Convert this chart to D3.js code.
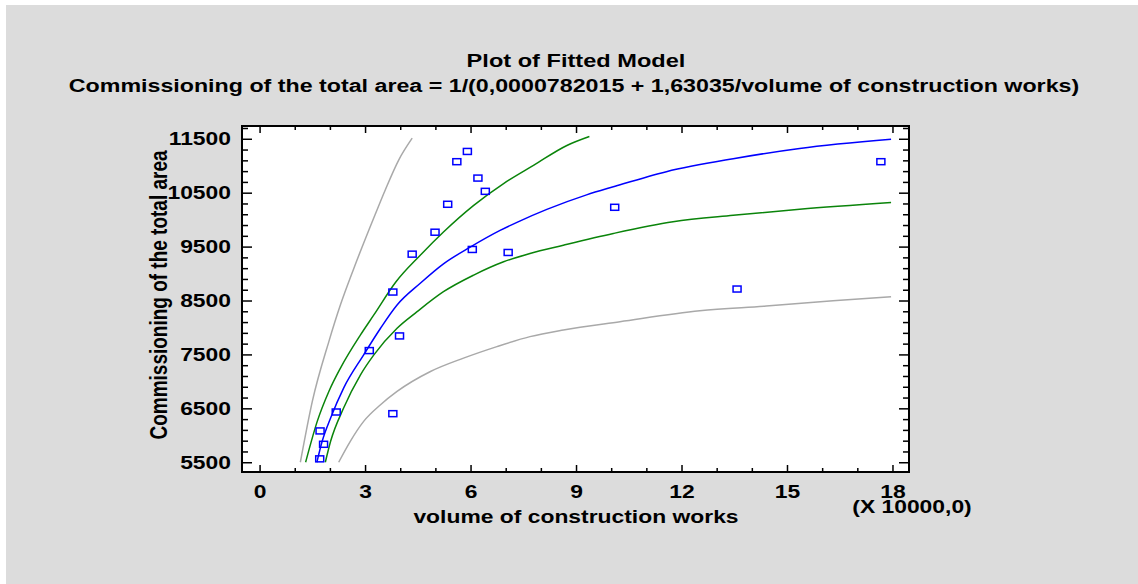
<!DOCTYPE html>
<html>
<head>
<meta charset="utf-8">
<script src="https://cdn.jsdelivr.net/npm/d3@7/dist/d3.min.js"></script>
<style>
  body { margin: 0; background: #fff; }
  text { font-family: "Liberation Sans", Arial, sans-serif; font-weight: bold; fill: #000; }
</style>
</head>
<body>
<div id="chart-area"></div>
<script>
// observations (volume in units of 10000)
const obsVolume = [1.71, 1.82, 1.72, 2.18, 3.79, 3.12, 3.98, 3.79, 4.34, 4.99, 5.35, 6.05, 7.07, 5.61, 5.91, 6.21, 6.42, 10.10, 13.58, 17.67];
const obsArea   = [5563, 5833, 6081, 6432, 6401, 7571, 7843, 8657, 9360, 9767, 10285, 9447, 9391, 11075, 11265, 10771, 10525, 10229, 8713, 11075];

// fitted model line
const fitX = [1.63, 1.78, 2.02, 2.39, 2.96, 3.44, 3.91, 4.57, 5.23, 5.99, 6.84, 7.32, 8.17, 9.30, 10.06, 11.57, 13.47, 15.36, 17.96];
const fitY = [5500, 5888, 6321, 6876, 7492, 7986, 8417, 8820, 9180, 9490, 9800, 9950, 10190, 10460, 10610, 10890, 11130, 11320, 11490];

// confidence limits (green)
const confUpX = [1.31, 1.64, 1.97, 2.30, 2.87, 3.25, 3.88, 4.57, 5.23, 6.09, 6.94, 7.79, 8.74, 9.38];
const confUpY = [5500, 6258, 6813, 7246, 7862, 8232, 8848, 9341, 9772, 10266, 10670, 11006, 11376, 11542];
const confLoX = [1.87, 2.02, 2.39, 2.87, 3.25, 3.91, 4.48, 5.23, 6.09, 6.94, 7.69, 8.64, 10.06, 11.76, 13.47, 15.36, 17.96];
const confLoY = [5500, 5888, 6506, 7122, 7492, 7986, 8293, 8663, 8972, 9218, 9373, 9526, 9743, 9960, 10080, 10192, 10316];

// prediction limits (gray)
const predUpX = [1.16, 1.50, 1.97, 2.30, 2.68, 3.29, 3.58, 3.96, 4.34];
const predUpY = [5500, 6628, 7738, 8420, 9095, 10100, 10560, 11110, 11511];
const predLoX = [2.25, 2.58, 2.96, 3.44, 3.91, 4.86, 5.80, 6.75, 7.69, 8.64, 10.25, 12.52, 14.41, 16.31, 17.96];
const predLoY = [5500, 5888, 6258, 6567, 6813, 7183, 7431, 7645, 7830, 7954, 8108, 8311, 8398, 8496, 8570];

const xTicks = [0, 3, 6, 9, 12, 15, 18];
const yTicks = [5500, 6500, 7500, 8500, 9500, 10500, 11500];

const canvasWidth = 1138;
const canvasHeight = 584;
const margin = {left: 242, top: 126, right: 229, bottom: 112};
const chartWidth = canvasWidth - margin.left - margin.right;
const chartHeight = canvasHeight - margin.top - margin.bottom;
const stretchX = 1.27;

const canvas = d3.select("#chart-area").append("svg")
  .attr("width", canvasWidth).attr("height", canvasHeight);

canvas.append("rect").attr("x", 6).attr("y", 5)
  .attr("width", canvasWidth - 6).attr("height", canvasHeight - 5).attr("fill", "#dcdcdc");

const chartGroup = canvas.append("g").attr("transform", `translate(${margin.left}, ${margin.top})`);
chartGroup.append("rect").attr("width", chartWidth).attr("height", chartHeight).attr("fill", "#fff");

const xScale = d3.scaleLinear().domain([-0.5, 18.47]).range([0, chartWidth]);
const yScale = d3.scaleLinear().domain([5319, 11737]).range([chartHeight, 0]);

// widen horizontal text like the original
function stretch(sel, f = stretchX) {
  sel.each(function() {
    const w = this.getComputedTextLength();
    d3.select(this).attr("textLength", w * f).attr("lengthAdjust", "spacingAndGlyphs");
  });
}

const xMinor = d3.range(0, 19, 1).filter(v => v % 3 !== 0);
const yMinor = d3.range(5300, 11800, 200).filter(v => v > 5319 && v < 11737 && (v - 5500) % 1000 !== 0);

function styleAxis(g) {
  g.select(".domain").remove();
  g.selectAll("line").attr("stroke", "#000").attr("stroke-width", 1.5);
  g.selectAll("text").attr("font-size", "18px").attr("font-family", null);
}

// bottom
chartGroup.append("g").attr("transform", `translate(0, ${chartHeight})`)
  .call(d3.axisBottom(xScale).tickValues(xTicks).tickSize(-7).tickPadding(13))
  .call(styleAxis)
  .call(g => g.selectAll("text").call(stretch));
chartGroup.append("g").attr("transform", `translate(0, ${chartHeight})`)
  .call(d3.axisBottom(xScale).tickValues(xMinor).tickSize(-4).tickFormat(""))
  .call(styleAxis);
// top
chartGroup.append("g")
  .call(d3.axisTop(xScale).tickValues(xTicks).tickSize(-7).tickFormat(""))
  .call(styleAxis);
chartGroup.append("g")
  .call(d3.axisTop(xScale).tickValues(xMinor).tickSize(-4).tickFormat(""))
  .call(styleAxis);
// left
chartGroup.append("g")
  .call(d3.axisLeft(yScale).tickValues(yTicks).tickSize(-10).tickPadding(11).tickFormat(d3.format("d")))
  .call(styleAxis)
  .call(g => g.selectAll("text").call(stretch));
chartGroup.append("g")
  .call(d3.axisLeft(yScale).tickValues(yMinor).tickSize(-6).tickFormat(""))
  .call(styleAxis);
// right
chartGroup.append("g").attr("transform", `translate(${chartWidth}, 0)`)
  .call(d3.axisRight(yScale).tickValues(yTicks).tickSize(-10).tickFormat(""))
  .call(styleAxis);
chartGroup.append("g").attr("transform", `translate(${chartWidth}, 0)`)
  .call(d3.axisRight(yScale).tickValues(yMinor).tickSize(-6).tickFormat(""))
  .call(styleAxis);

// curves
const line = d3.line().x(d => xScale(d[0])).y(d => yScale(d[1])).curve(d3.curveMonotoneX);
const curves = [
  {x: predUpX, y: predUpY, color: "#a9a9a9"},
  {x: predLoX, y: predLoY, color: "#a9a9a9"},
  {x: confUpX, y: confUpY, color: "#0a840a"},
  {x: confLoX, y: confLoY, color: "#0a840a"},
  {x: fitX, y: fitY, color: "#0000ff"}
];
chartGroup.selectAll("path.curve")
  .data(curves)
  .enter()
  .append("path")
  .attr("class", "curve")
  .attr("d", c => line(c.x.map((v, i) => [v, c.y[i]])))
  .attr("fill", "none")
  .attr("stroke", c => c.color)
  .attr("stroke-width", 1.5);

// observed points
chartGroup.selectAll("rect.pt")
  .data(obsVolume.map((v, i) => [v, obsArea[i]]))
  .enter()
  .append("rect")
  .attr("class", "pt")
  .attr("x", d => xScale(d[0]) - 4)
  .attr("y", d => yScale(d[1]) - 3)
  .attr("width", 8)
  .attr("height", 6)
  .attr("fill", "none")
  .attr("stroke", "#0000ff")
  .attr("stroke-width", 1.5);

// frame
chartGroup.append("rect").attr("width", chartWidth).attr("height", chartHeight)
  .attr("fill", "none").attr("stroke", "#000").attr("stroke-width", 2);

// titles
canvas.append("text").attr("x", 576).attr("y", 67).attr("text-anchor", "middle")
  .attr("font-size", "18px").text("Plot of Fitted Model").call(stretch, 1.31);
canvas.append("text").attr("x", 574).attr("y", 92).attr("text-anchor", "middle")
  .attr("font-size", "18px")
  .text("Commissioning of the total area = 1/(0,0000782015 + 1,63035/volume of construction works)")
  .call(stretch, 1.29);

canvas.append("text").attr("x", 576).attr("y", 523).attr("text-anchor", "middle")
  .attr("font-size", "18px").text("volume of construction works").call(stretch);
canvas.append("text").attr("x", 912).attr("y", 513).attr("text-anchor", "middle")
  .attr("font-size", "18px").text("(X 10000,0)").call(stretch);

canvas.append("text").attr("transform", `translate(167, 295) scale(${stretchX}, 1) rotate(-90)`)
  .attr("text-anchor", "middle").attr("font-size", "19px")
  .text("Commissioning of the total area");
</script>
</body>
</html>
